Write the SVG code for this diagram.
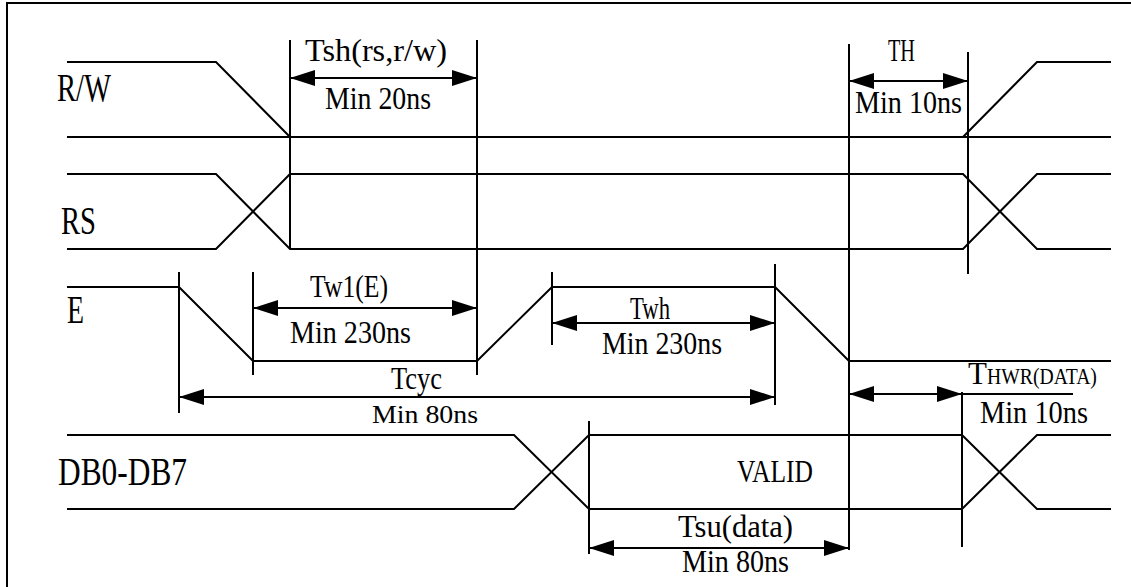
<svg xmlns="http://www.w3.org/2000/svg" width="1131" height="587" viewBox="0 0 1131 587">
<defs>
<marker id="ah" markerUnits="userSpaceOnUse" markerWidth="25" markerHeight="16" refX="25" refY="8" orient="auto-start-reverse">
<path d="M0,0 L25,8 L0,16 z" fill="#000"/>
</marker>
<style>
.ln{stroke:#000;stroke-width:2;fill:none;stroke-linejoin:miter}
.dim{stroke:#000;stroke-width:2;fill:none;marker-start:url(#ah);marker-end:url(#ah)}
text{font-family:'Liberation Serif','DejaVu Serif',serif;fill:#000}
.lbl{font-size:39px}
.t{font-size:31px}
.sub{font-size:24px}
</style>
</defs>
<rect x="0" y="0" width="1131" height="587" fill="#fff"/>
<rect x="7" y="3" width="1200" height="700" fill="none" stroke="#000" stroke-width="2"/>

<g id="sig-rw">
<polyline class="ln" points="67,62 216,62 290,137"/>
<line class="ln" x1="67" y1="137" x2="1111" y2="137"/>
<polyline class="ln" points="963,137 1037,62 1111,62"/>
<text class="lbl" font-family="Liberation Serif, serif" x="57" y="101" textLength="54" lengthAdjust="spacingAndGlyphs">R/W</text>
</g>

<g id="sig-rs">
<polyline class="ln" points="67,174 216,174 290,249 963,249 1037,174 1111,174"/>
<polyline class="ln" points="67,249 216,249 290,174 963,174 1037,249 1111,249"/>
<text class="lbl" font-family="Liberation Serif, serif" x="61" y="234" textLength="35" lengthAdjust="spacingAndGlyphs">RS</text>
</g>

<g id="sig-e">
<polyline class="ln" points="67,287 179,287 253,361 477,361 552,287 775,287 849,361 1111,361"/>
<text class="lbl" font-family="Liberation Serif, serif" x="67" y="323" textLength="17" lengthAdjust="spacingAndGlyphs">E</text>
</g>

<g id="sig-db">
<polyline class="ln" points="67,435 514,435 589,509 962,509 1037,435 1111,435"/>
<polyline class="ln" points="67,509 514,509 589,435 962,435 1037,509 1111,509"/>
<text class="lbl" font-family="Liberation Serif, serif" x="58" y="485" textLength="129" lengthAdjust="spacingAndGlyphs">DB0-DB7</text>
<text class="t" font-family="Liberation Serif, serif" x="737" y="482" textLength="76" lengthAdjust="spacingAndGlyphs">VALID</text>
</g>

<g id="guides">
<line class="ln" x1="290" y1="40" x2="290" y2="249"/>
<line class="ln" x1="477" y1="40" x2="477" y2="375"/>
<line class="ln" x1="849" y1="44" x2="849" y2="550"/>
<line class="ln" x1="968" y1="52" x2="968" y2="274"/>
<line class="ln" x1="179" y1="272" x2="179" y2="413"/>
<line class="ln" x1="253" y1="272" x2="253" y2="375"/>
<line class="ln" x1="552" y1="272" x2="552" y2="345"/>
<line class="ln" x1="775" y1="264" x2="775" y2="405"/>
<line class="ln" x1="962" y1="392" x2="962" y2="547"/>
<line class="ln" x1="589" y1="421" x2="589" y2="554"/>
</g>

<g id="connectors">
<line class="dim" x1="290" y1="78" x2="477" y2="78"/>
<line class="dim" x1="849" y1="81" x2="968" y2="81"/>
<line class="dim" x1="253" y1="308" x2="477" y2="308"/>
<line class="dim" x1="552" y1="323" x2="775" y2="323"/>
<line class="dim" x1="179" y1="397" x2="775" y2="397"/>
<line class="dim" x1="849" y1="394" x2="962" y2="394"/>
<line class="ln" x1="962" y1="394" x2="1073" y2="394"/>
<line class="dim" x1="589" y1="548" x2="849" y2="548"/>
</g>

<g id="dim-labels" font-family="Liberation Serif, serif">
<text class="t" x="305" y="61" textLength="142" lengthAdjust="spacingAndGlyphs">Tsh(rs,r/w)</text>
<text class="t" x="325" y="109" textLength="106" lengthAdjust="spacingAndGlyphs">Min 20ns</text>
<text class="t" x="888" y="61" textLength="27" lengthAdjust="spacingAndGlyphs">TH</text>
<text class="t" x="855" y="113" textLength="107" lengthAdjust="spacingAndGlyphs">Min 10ns</text>
<text class="t" x="310" y="297" textLength="78" lengthAdjust="spacingAndGlyphs">Tw1(E)</text>
<text class="t" x="290" y="343" textLength="121" lengthAdjust="spacingAndGlyphs">Min 230ns</text>
<text class="t" x="630" y="319" textLength="40" lengthAdjust="spacingAndGlyphs">Twh</text>
<text class="t" x="602" y="354" textLength="120" lengthAdjust="spacingAndGlyphs">Min 230ns</text>
<text class="t" x="391" y="389" textLength="51" lengthAdjust="spacingAndGlyphs">Tcyc</text>
<text class="t" x="372" y="423" textLength="106" lengthAdjust="spacingAndGlyphs" style="font-size:26px">Min 80ns</text>
<text class="t" x="968" y="384">T<tspan class="sub" textLength="110" lengthAdjust="spacingAndGlyphs">HWR(DATA)</tspan></text>
<text class="t" x="980" y="423" textLength="108" lengthAdjust="spacingAndGlyphs">Min 10ns</text>
<text class="t" x="678" y="537" textLength="115" lengthAdjust="spacingAndGlyphs">Tsu(data)</text>
<text class="t" x="682" y="572" textLength="107" lengthAdjust="spacingAndGlyphs">Min 80ns</text>
</g>
</svg>
